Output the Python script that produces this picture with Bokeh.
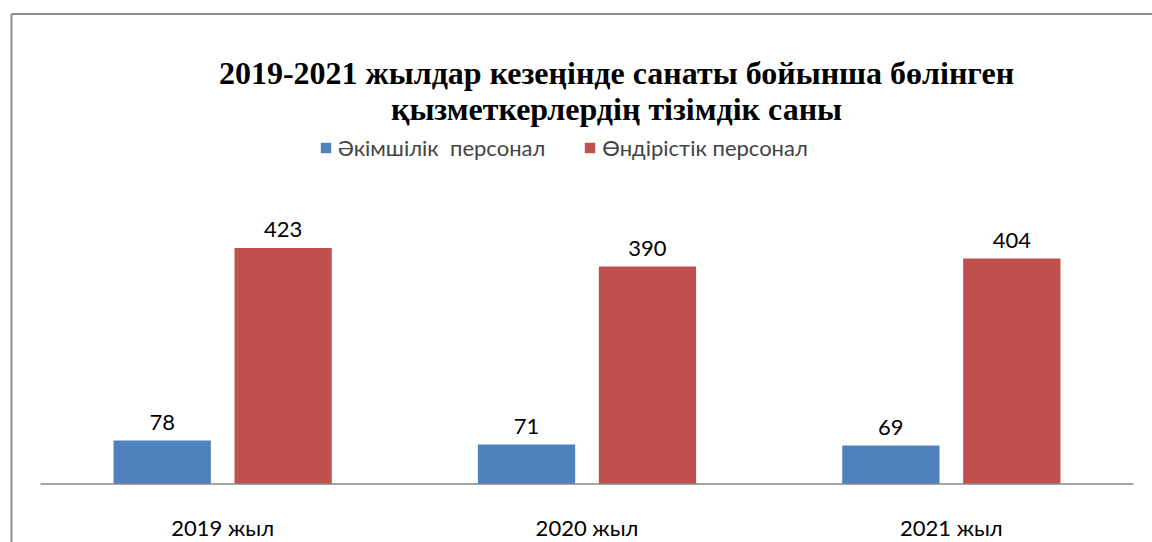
from bokeh.plotting import figure
from bokeh.models import Range1d, Label, ColumnDataSource, Legend
from bokeh.transform import dodge
from bokeh.core.properties import value
from bokeh.embed import file_html
from bokeh.resources import INLINE

categories = ["2019 жыл", "2020 жыл", "2021 жыл"]
admin_staff = [78, 71, 69]
production_staff = [423, 390, 404]
series_names = ["Әкімшілік  персонал", "Өндірістік персонал"]
title_lines = ["2019-2021 жылдар кезеңінде санаты бойынша бөлінген",
               "қызметкерлердің тізімдік саны"]

BLUE = "#4F81BD"
RED = "#C0504D"

W, H = 1152, 542
PX_X = 1093 / 3.0          # pixels per category
PX_Y = 0.558               # pixels per unit
x_start = -0.5 - 40 / PX_X
x_end = x_start + W / PX_X
y_end = 483.5 / PX_Y
y_start = y_end - H / PX_Y

def fx(px):   # frame pixel -> data x
    return x_start + px / PX_X

def fy(py):   # frame pixel (from top) -> data y
    return y_end - py / PX_Y

p = figure(width=W, height=H, output_backend="svg", toolbar_location=None,
           x_range=Range1d(x_start, x_end), y_range=Range1d(y_start, y_end),
           min_border=0, outline_line_color=None)
p.axis.visible = False
p.grid.visible = False
p.background_fill_color = "white"
p.border_fill_color = "white"

src = ColumnDataSource(dict(x=list(range(len(categories))), cat=categories,
                            a=admin_staff, b=production_staff,
                            at=[str(v) for v in admin_staff],
                            bt=[str(v) for v in production_staff],
                            zero=[0] * len(categories)))

off = 0.166
bw = 0.267
r1 = p.vbar(x=dodge("x", -off, range=p.x_range), top="a", width=bw, source=src,
            fill_color=BLUE, line_color=None)
r2 = p.vbar(x=dodge("x", off, range=p.x_range), top="b", width=bw, source=src,
            fill_color=RED, line_color=None)

lab_font = value("Lato")
p.text(x=dodge("x", -off, range=p.x_range), y="a", text="at", source=src,
       text_align="center", text_baseline="alphabetic", y_offset=-18,
       text_font=lab_font, text_font_size="22px", text_color="black")
p.text(x=dodge("x", off, range=p.x_range), y="b", text="bt", source=src,
       text_align="center", text_baseline="alphabetic", y_offset=-18,
       text_font=lab_font, text_font_size="22px", text_color="black")

# baseline (category axis line)
p.segment(x0=[-0.5], y0=[0], x1=[len(categories) - 0.5], y1=[0],
          line_color="#878787", line_width=1.5)
# category labels
p.text(x="x", y="zero", text="cat", source=src, text_align="center",
       text_baseline="alphabetic", y_offset=43, text_font=lab_font,
       text_font_size="22px", text_color="black")

# chart border (left and top, starting at the corner)
bx, by = fx(11), fy(13.5)
p.segment(x0=[bx, bx], y0=[by, by], x1=[bx, x_end], y1=[y_start, by],
          line_color="#8f8f8f", line_width=2)

# title
for i, t in enumerate(title_lines):
    p.add_layout(Label(x=fx(616), y=fy(72.7 + 36 * i), text=t, text_align="center",
                       text_baseline="alphabetic", text_font="Liberation Serif",
                       text_font_style="bold", text_font_size="32px",
                       text_color="black"))

legend = Legend(items=[(series_names[0], [r1]), (series_names[1], [r2])],
                orientation="horizontal", location=(319, 381),
                glyph_width=13, glyph_height=13, label_standoff=6, spacing=38,
                padding=0, margin=0, border_line_color=None,
                background_fill_alpha=0, label_text_font="Lato",
                label_text_font_size="22px", label_height=20)
p.add_layout(legend, "center")

open("out.html", "w").write(file_html(p, INLINE))
